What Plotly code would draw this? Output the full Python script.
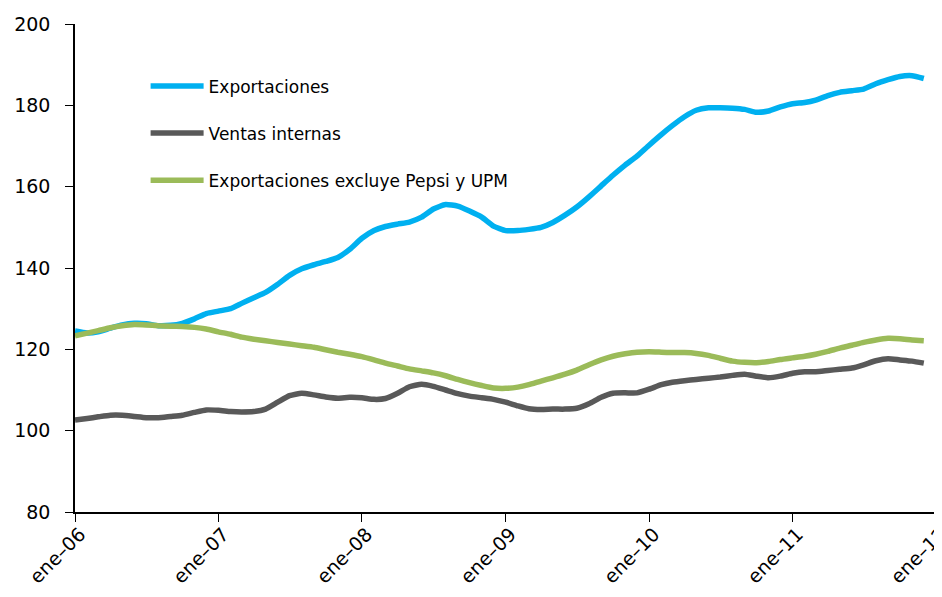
import plotly.graph_objects as go
import pandas as pd

months = pd.date_range("2006-01-01", periods=72, freq="MS")

exportaciones = [
    124.5, 124.0, 124.3, 125.2, 126.0, 126.4, 126.3, 125.8, 125.9, 126.4,
    127.5, 128.8, 129.4, 130.0, 131.3, 132.7, 134.0, 136.0, 138.2, 139.8,
    140.8, 141.6, 142.6, 144.6, 147.3, 149.2, 150.2, 150.8, 151.3, 152.5,
    154.5, 155.6, 155.2, 154.0, 152.5, 150.3, 149.2, 149.2, 149.5, 150.0,
    151.2, 153.0, 155.0, 157.5, 160.2, 162.8, 165.3, 167.5, 170.2, 172.8,
    175.0, 177.2, 178.8, 179.4, 179.4, 179.3, 179.0, 178.3, 178.6, 179.6,
    180.4, 180.7, 181.3, 182.4, 183.2, 183.6, 184.0, 185.3, 186.3, 187.1,
    187.3, 186.6,
]

ventas_internas = [
    102.6, 103.0, 103.4, 103.8, 103.8, 103.5, 103.2, 103.2, 103.5, 103.8,
    104.5, 105.1, 105.0, 104.7, 104.6, 104.7, 105.3, 107.0, 108.6, 109.2,
    108.8, 108.3, 108.0, 108.2, 108.1, 107.7, 107.9, 109.2, 110.8, 111.4,
    110.9, 110.0, 109.1, 108.5, 108.1, 107.7, 107.0, 106.1, 105.4, 105.2,
    105.3, 105.3, 105.5, 106.6, 108.2, 109.2, 109.3, 109.3, 110.2, 111.3,
    111.9, 112.3, 112.6, 112.9, 113.2, 113.6, 113.9, 113.4, 113.0, 113.4,
    114.1, 114.5, 114.5, 114.8, 115.1, 115.4, 116.2, 117.2, 117.7, 117.4,
    117.1, 116.6,
]

exportaciones_sin = [
    123.3, 124.0, 124.6, 125.3, 125.8, 126.1, 126.0, 125.8, 125.7, 125.6,
    125.4, 125.0, 124.3, 123.7, 123.0, 122.5, 122.1, 121.7, 121.3, 120.9,
    120.5, 119.9, 119.3, 118.8, 118.2, 117.4, 116.6, 115.9, 115.2, 114.7,
    114.2, 113.5, 112.6, 111.8, 111.1, 110.5, 110.4, 110.7, 111.3, 112.2,
    113.0, 113.9, 114.9, 116.2, 117.4, 118.3, 118.9, 119.3, 119.4, 119.3,
    119.2, 119.2, 119.0, 118.5, 117.8, 117.1, 116.8, 116.7, 117.0, 117.5,
    117.9, 118.3, 118.8, 119.5, 120.3, 121.0, 121.7, 122.3, 122.7, 122.6,
    122.3, 122.1,
]

series_names = ["Exportaciones", "Ventas internas", "Exportaciones excluye Pepsi y UPM"]
tick_dates = ["2006-01-01", "2007-01-01", "2008-01-01", "2009-01-01",
              "2010-01-01", "2011-01-01", "2012-01-01"]
tick_labels = ["ene–06", "ene–07", "ene–08", "ene–09", "ene–10", "ene–11", "ene–12"]
y_ticks = [80, 100, 120, 140, 160, 180, 200]

colors = ["#00B0F0", "#595959", "#9BBB59"]
FONT = "DejaVu Sans"

fig = go.Figure()
for i, (name, vals) in enumerate(zip(series_names,
                                      [exportaciones, ventas_internas, exportaciones_sin])):
    fig.add_trace(go.Scatter(
        x=months, y=vals, name=name, mode="lines",
        line=dict(color=colors[i], width=5.5, shape="spline", smoothing=0.5),
        legendgroup=f"g{i}",
    ))

# the page body adds an 8px offset; figure is shrunk so it fits the window
fig.update_layout(
    width=934, height=589,
    margin=dict(l=67, r=6, t=16, b=85),
    paper_bgcolor="white", plot_bgcolor="white",
    font=dict(family=FONT, size=19, color="#000000"),
    showlegend=True,
    legend=dict(
        x=0.082, y=0.909, xanchor="left", yanchor="top",
        traceorder="grouped", tracegroupgap=22,
        font=dict(family=FONT, size=17, color="#000000"),
        bgcolor="rgba(0,0,0,0)", borderwidth=0,
        itemwidth=53,
    ),
    xaxis=dict(
        type="date",
        range=["2006-01-01", "2012-01-01 02:00"],
        tickvals=tick_dates, ticktext=tick_labels,
        tickangle=-45,
        ticks="outside", ticklen=8, tickcolor="#000000", tickwidth=1,
        showline=True, linecolor="#000000", linewidth=1.5,
        showgrid=False, zeroline=False, automargin=False,
        tickfont=dict(family=FONT, size=19, color="#000000"),
        ticklabeloverflow="allow",
        ticklabelstandoff=-6, ticklabelshift=5,
    ),
    yaxis=dict(
        range=[80, 200],
        tickvals=y_ticks,
        ticks="outside", ticklen=8, tickcolor="#000000", tickwidth=1,
        showline=True, linecolor="#000000", linewidth=1.5,
        showgrid=False, zeroline=False, automargin=False,
        tickfont=dict(family=FONT, size=19, color="#000000"),
        ticklabelstandoff=11,
    ),
)

fig.write_html("out.html")
